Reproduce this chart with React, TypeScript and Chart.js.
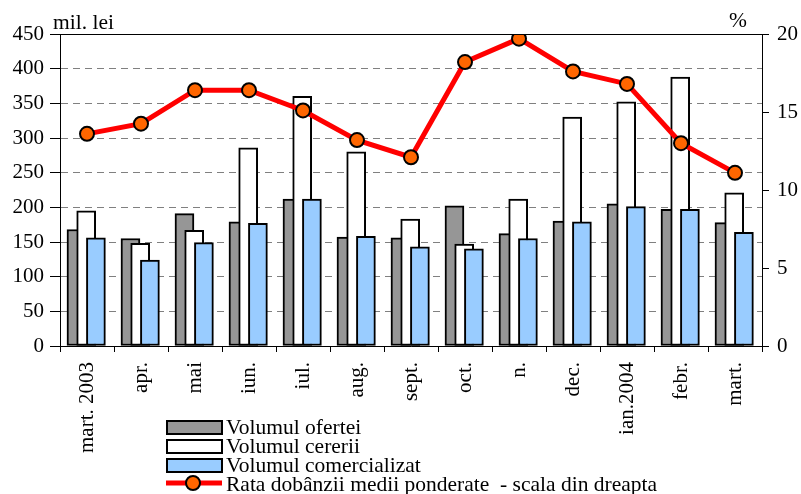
import React, { useEffect, useRef } from "react";
import { Chart, registerables } from "chart.js";

Chart.register(...registerables);

const categories = ["mart. 2003", "apr.", "mai", "iun.", "iul.", "aug.", "sept.", "oct.", "n.", "dec.", "ian.2004", "febr.", "mart."];
const ofertaValues = [168, 155, 191, 179, 212, 157, 156, 202, 162, 180, 205, 197, 178];
const cerereValues = [195, 148, 167, 286, 360, 280, 183, 147, 212, 330, 352, 388, 221];
const comercialValues = [156, 124, 149, 177, 212, 158, 143, 140, 155, 179, 201, 197, 164];
const rateValues = [13.6, 14.25, 16.4, 16.4, 15.1, 13.2, 12.1, 18.2, 19.7, 17.6, 16.8, 13.0, 11.1];
const seriesNames = ["Volumul ofertei", "Volumul cererii", "Volumul comercializat", "Rata dobânzii medii ponderate  - scala din dreapta"];
const leftAxisTitle = "mil. lei";
const rightAxisTitle = "%";

const FONT = "'Liberation Serif', 'Times New Roman', serif";
const GRAY = "#969696";
const WHITE = "#FFFFFF";
const BLUE = "#99CCFF";
const RED = "#FF0000";
const ORANGE = "#FF6600";

const offsets = [-0.195, -0.015, 0.165];
const toPoints = (vals: number[], off: number) => vals.map((v, i) => ({ x: i + off, y: v }));

const overlayPlugin = {
  id: "overlay",
  afterDraw(chart: any) {
    const ctx = chart.ctx;
    const area = chart.chartArea;
    ctx.save();
    // top border
    ctx.strokeStyle = "#000";
    ctx.lineWidth = 1;
    ctx.beginPath();
    ctx.moveTo(area.left - 10, Math.round(area.top) + 0.5);
    ctx.lineTo(area.right, Math.round(area.top) + 0.5);
    ctx.stroke();
    // titles
    ctx.fillStyle = "#000";
    ctx.font = `21.5px ${FONT}`;
    ctx.textAlign = "left";
    ctx.textBaseline = "alphabetic";
    ctx.fillText(leftAxisTitle, 53, 29);
    ctx.textAlign = "center";
    ctx.fillText(rightAxisTitle, 738, 27);
    // legend
    const boxX = 167, boxW = 55, boxH = 13;
    const fills = [GRAY, WHITE, BLUE];
    const tops = [421, 440, 459];
    for (let i = 0; i < 3; i++) {
      ctx.fillStyle = fills[i];
      ctx.fillRect(boxX, tops[i], boxW, boxH);
      ctx.strokeStyle = "#000";
      ctx.lineWidth = 2;
      ctx.strokeRect(boxX, tops[i], boxW, boxH);
    }
    ctx.strokeStyle = RED;
    ctx.lineWidth = 5;
    ctx.beginPath();
    ctx.moveTo(166, 483);
    ctx.lineTo(222, 483);
    ctx.stroke();
    ctx.beginPath();
    ctx.arc(193, 483, 7, 0, Math.PI * 2);
    ctx.fillStyle = ORANGE;
    ctx.fill();
    ctx.strokeStyle = "#000";
    ctx.lineWidth = 2;
    ctx.stroke();
    ctx.fillStyle = "#000";
    ctx.font = `21.5px ${FONT}`;
    ctx.textAlign = "left";
    const baselines = [434, 453, 472, 491];
    seriesNames.forEach((n, i) => ctx.fillText(n, 226, baselines[i]));
    ctx.restore();
  },
};

export default function App() {
  const ref = useRef<HTMLCanvasElement>(null);
  useEffect(() => {
    document.body.style.margin = "0";
    const canvas = ref.current!;
    const barCommon = {
      type: "bar" as const,
      xAxisID: "xb",
      yAxisID: "y",
      grouped: false,
      barThickness: 19,
      borderColor: "#000",
      borderWidth: 2,
      borderSkipped: false,
    };
    const chart = new Chart(canvas, {
      type: "bar",
      data: {
        labels: categories,
        datasets: [
          {
            type: "line",
            label: seriesNames[3],
            data: rateValues,
            xAxisID: "x",
            yAxisID: "y1",
            borderColor: RED,
            borderWidth: 5,
            pointRadius: 7,
            pointBackgroundColor: ORANGE,
            pointBorderColor: "#000",
            pointBorderWidth: 2,
            tension: 0,
            order: 0,
          } as any,
          { ...barCommon, label: seriesNames[2], data: toPoints(comercialValues, offsets[2]), backgroundColor: BLUE, order: 1 } as any,
          { ...barCommon, label: seriesNames[1], data: toPoints(cerereValues, offsets[1]), backgroundColor: WHITE, order: 2 } as any,
          { ...barCommon, label: seriesNames[0], data: toPoints(ofertaValues, offsets[0]), backgroundColor: GRAY, order: 3 } as any,
        ],
      },
      options: {
        responsive: false,
        animation: false,
        layout: { padding: { top: 34, left: 0, right: 0, bottom: 0 } },
        plugins: { legend: { display: false }, tooltip: { enabled: false } },
        scales: {
          x: {
            type: "category",
            offset: true,
            grid: { offset: true, drawOnChartArea: false, drawTicks: true, tickLength: 6, tickColor: "#000" },
            border: { color: "#000", width: 1 },
            ticks: { autoSkip: false, minRotation: 90, maxRotation: 90, padding: 10, color: "#000", font: { family: FONT, size: 21 } },
            afterFit: (s: any) => { s.height = 148; },
          },
          xb: {
            type: "linear",
            display: false,
            offset: false,
            grace: 0,
            bounds: "data",
            min: -0.5,
            max: 12.5,
          },
          y: {
            position: "left",
            min: 0,
            max: 450,
            ticks: { stepSize: 50, padding: 6, color: "#000", font: { family: FONT, size: 21 } },
            grid: { color: "#808080", lineWidth: 1, tickColor: "#000", tickLength: 10, tickBorderDash: [] },
            border: { color: "#000", width: 1, dash: [7, 5] },
            afterFit: (s: any) => { s.width = 60; },
          },
          y1: {
            position: "right",
            min: 0,
            max: 20,
            ticks: { stepSize: 5, padding: 8, color: "#000", font: { family: FONT, size: 21 } },
            grid: { drawOnChartArea: false, tickColor: "#000", tickLength: 7 },
            border: { color: "#000", width: 1 },
            afterFit: (s: any) => { s.width = 39; },
          },
        },
      } as any,
      plugins: [overlayPlugin],
    });
    return () => chart.destroy();
  }, []);
  return (
    <div style={{ width: 801, height: 494 }}>
      <canvas ref={ref} width={801} height={494} style={{ display: "block" }} />
    </div>
  );
}
